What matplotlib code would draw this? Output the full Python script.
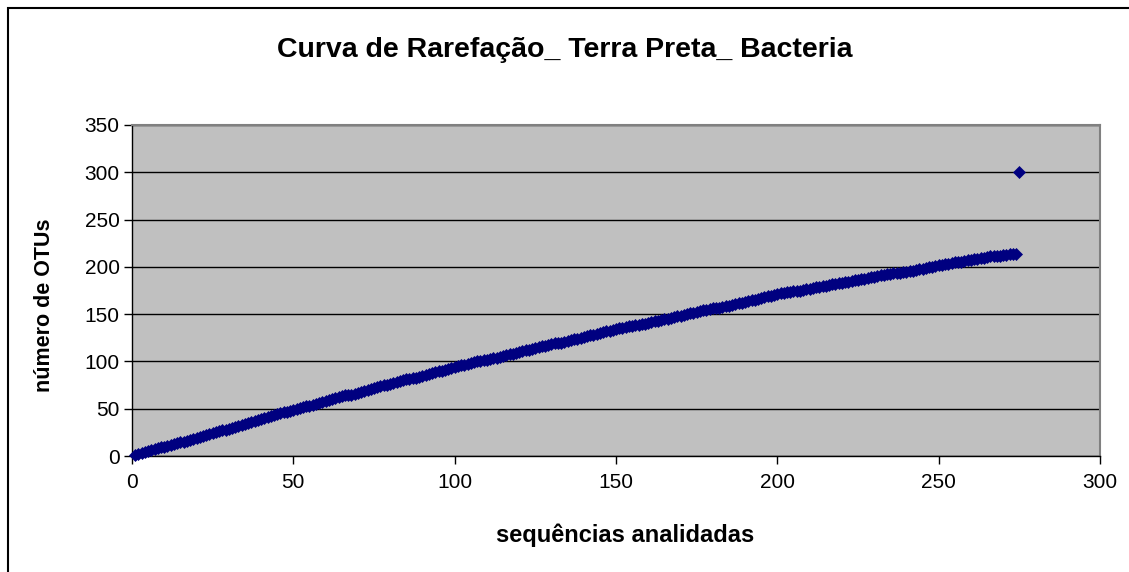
import numpy as np
import matplotlib
matplotlib.use("Agg")
import matplotlib.pyplot as plt
from matplotlib.patches import Rectangle

plt.rcParams['font.family'] = ['Liberation Sans', 'DejaVu Sans']

otus = [
    1, 2, 3, 4, 5, 6, 7, 8, 9, 10,
    11, 12, 13, 14, 15, 15, 16, 17, 18, 19,
    20, 21, 22, 23, 24, 25, 26, 27, 28, 29,
    30, 31, 32, 33, 34, 35, 36, 37, 38, 39,
    40, 41, 42, 43, 44, 45, 46, 47, 48, 49,
    50, 51, 52, 53, 53, 54, 55, 56, 57, 58,
    59, 60, 61, 62, 63, 64, 64, 65, 66, 67,
    68, 69, 70, 71, 72, 73, 74, 75, 75, 76,
    77, 78, 79, 80, 81, 81, 82, 83, 84, 85,
    86, 87, 88, 89, 90, 90, 91, 92, 93, 94,
    95, 96, 96, 97, 98, 99, 100, 100, 101, 102,
    103, 104, 104, 105, 106, 107, 108, 108, 109, 110,
    111, 112, 112, 113, 114, 115, 116, 116, 117, 118,
    119, 120, 120, 121, 122, 123, 124, 124, 125, 126,
    127, 128, 128, 129, 130, 131, 132, 132, 133, 134,
    135, 135, 136, 137, 137, 138, 139, 140, 140, 141,
    142, 143, 143, 144, 145, 145, 146, 147, 148, 148,
    149, 150, 151, 151, 152, 153, 154, 154, 155, 156,
    157, 157, 158, 159, 159, 160, 161, 162, 162, 163,
    164, 165, 165, 166, 167, 168, 169, 169, 170, 171,
    172, 172, 173, 173, 174, 175, 175, 176, 177, 177,
    178, 179, 179, 180, 180, 181, 182, 182, 183, 183,
    184, 184, 185, 186, 186, 187, 187, 188, 189, 189,
    190, 191, 191, 192, 192, 193, 194, 194, 195, 195,
    196, 196, 197, 198, 198, 199, 200, 200, 201, 202,
    202, 203, 203, 204, 205, 205, 205, 206, 207, 207,
    208, 208, 209, 209, 210, 211, 211, 212, 212, 213,
    213, 214, 214, 214,
]
seqs = list(range(1, len(otus) + 1))

# ponto final (total)
total_seqs = 275
total_otus = 300

x = seqs + [total_seqs]
y = otus + [total_otus]

fig = plt.figure(figsize=(11.29, 5.72), dpi=100)
ax = fig.add_axes([132 / 1129, 1 - 456 / 572, (1100 - 132) / 1129, (456 - 125) / 572])

ax.set_facecolor('#C0C0C0')
ax.plot(x, y, linestyle='none', marker='D', markersize=6.5,
        color='#000080', markeredgecolor='#000080', markeredgewidth=0.5,
        zorder=3, clip_on=False)

ax.set_xlim(0, 300)
ax.set_ylim(0, 350)
ax.set_xticks(range(0, 301, 50))
ax.set_yticks(range(0, 351, 50))
ax.grid(axis='y', color='black', linewidth=1)
ax.set_axisbelow(True)

ax.tick_params(direction='out', length=6, width=1, colors='black', labelsize=15)
ax.tick_params(axis='x', pad=6)
ax.tick_params(axis='y', pad=3)

for s in ['top', 'right']:
    ax.spines[s].set_color('#808080')
    ax.spines[s].set_linewidth(1.5)
for s in ['left', 'bottom']:
    ax.spines[s].set_color('black')
    ax.spines[s].set_linewidth(1)

fig.text(565 / 1129, 1 - 50 / 572, 'Curva de Rarefação_ Terra Preta_ Bacteria',
         ha='center', va='center', fontsize=20.5, fontweight='bold')
fig.text(625 / 1129, 1 - 535 / 572, 'sequências analidadas',
         ha='center', va='center', fontsize=17, fontweight='bold')
fig.text(45 / 1129, 1 - 305 / 572, 'número de OTUs', rotation=90,
         ha='center', va='center', fontsize=15.5, fontweight='bold')

# moldura do grafico
fig.patches.append(Rectangle((8 / 1129, -0.05), 1.2, 1 - 8 / 572 + 0.05,
                             transform=fig.transFigure, fill=False,
                             edgecolor='black', linewidth=1.5))

fig.savefig('out.png', dpi=100)
